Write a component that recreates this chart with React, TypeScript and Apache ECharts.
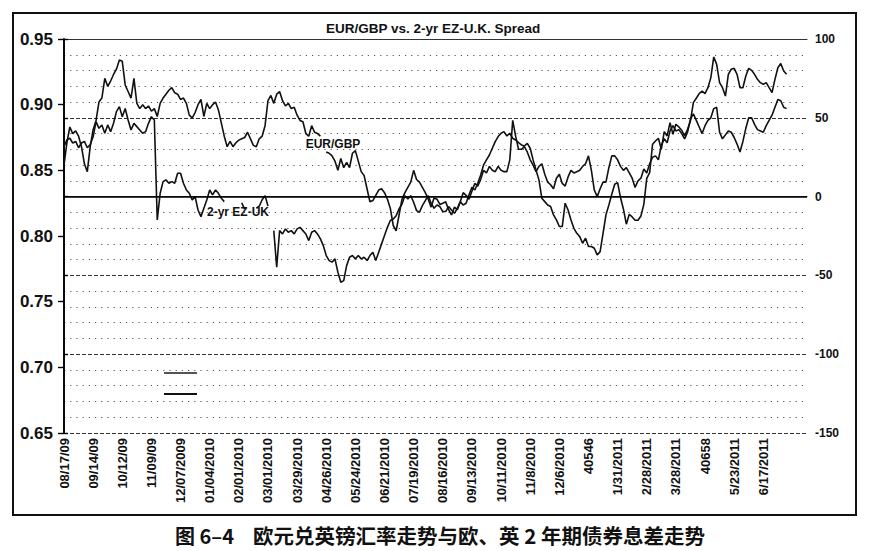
import React, { useEffect, useRef } from 'react';
import * as echarts from 'echarts';

const xLabels = [
  '08/17/09', '09/14/09', '10/12/09', '11/09/09', '12/07/2009', '01/04/2010', '02/01/2010',
  '03/01/2010', '03/29/2010', '04/26/2010', '05/24/2010', '06/21/2010', '07/19/2010',
  '08/16/2010', '09/13/2010', '10/11/2010', '11/8/2010', '12/6/2010', '40546', '1/31/2011',
  '2/28/2011', '3/28/2011', '40658', '5/23/2011', '6/17/2011',
];

const eurgbp: (number | null)[] = [
  0.854, 0.871, 0.883, 0.878, 0.880, 0.876, 0.868, 0.855, 0.849, 0.868,
  0.881, 0.888, 0.902, 0.905, 0.920, 0.914, 0.918, 0.923, 0.927, 0.934,
  0.933, 0.915, 0.910, 0.905, 0.920, 0.901, 0.897, 0.900, 0.897, 0.899,
  0.895, 0.897, 0.891, 0.901, 0.905, 0.908, 0.911, 0.913, 0.909, 0.908,
  0.904, 0.905, 0.901, 0.892, 0.890, 0.894, 0.900, 0.904, 0.891, 0.901,
  0.897, 0.900, 0.902, 0.896, 0.886, 0.876, 0.868, 0.872, 0.868, 0.871,
  0.873, 0.874, 0.875, 0.879, 0.874, 0.869, 0.868, 0.874, 0.876, 0.884,
  0.903, 0.907, 0.901, 0.908, 0.910, 0.903, 0.899, 0.901, 0.897, 0.898,
  0.892, 0.888, 0.887, 0.878, 0.876, 0.884, 0.879, 0.878, 0.876, null,
  0.864, 0.863, 0.861, 0.857, 0.850, 0.859, 0.852, 0.856, 0.852, 0.863,
  0.865, 0.857, 0.849, 0.846, 0.836, 0.826, 0.827, 0.831, 0.835, 0.836,
  0.833, 0.828, 0.821, 0.808, 0.804, 0.816, 0.828, 0.833, 0.837, 0.841,
  0.850, 0.843, 0.841, 0.837, 0.833, 0.828, 0.822, 0.829, 0.828, 0.824,
  0.825, 0.826, 0.820, 0.816, 0.822, 0.820, 0.826, 0.833, 0.831, 0.828,
  0.834, 0.840, 0.838, 0.843, 0.850, 0.848, 0.853, 0.850, 0.849, 0.853,
  0.850, 0.849, 0.849, 0.858, 0.888, 0.876, 0.866, 0.866, 0.868, 0.864,
  0.858, 0.854, 0.849, 0.853, 0.855, 0.847, 0.841, 0.839, 0.836, 0.844,
  0.847, 0.840, 0.838, 0.845, 0.850, 0.848, 0.849, 0.850, 0.853, 0.855,
  0.861, 0.850, 0.835, 0.830, 0.836, 0.841, 0.841, 0.852, 0.861, 0.861,
  0.858, 0.853, 0.850, 0.852, 0.848, 0.844, 0.837, 0.842, 0.844, 0.851,
  0.848, 0.855, 0.860, 0.861, 0.858, 0.869, 0.874, 0.871, 0.880, 0.884,
  0.880, 0.881, 0.878, 0.874, 0.879, 0.889, 0.893, 0.888, 0.883, 0.878,
  0.884, 0.888, 0.890, 0.897, 0.898, 0.879, 0.874, 0.877, 0.880, 0.879,
  0.875, 0.870, 0.864, 0.872, 0.882, 0.890, 0.890, 0.885, 0.881, 0.880,
  0.879, 0.884, 0.888, 0.892, 0.898, 0.904, 0.903, 0.898, 0.897,
];

const spread: (number | null)[] = [
  31.7, 36.0, 37.0, 34.0, 35.0, 31.0, 34.0, 35.0, 31.0, 33.0,
  38.0, 47.6, 43.3, 45.5, 40.2, 45.5, 41.2, 46.5, 53.9, 57.1,
  50.7, 55.9, 48.6, 42.3, 46.5, 44.4, 42.3, 40.2, 41.2, 46.5,
  50.7, 48.6, -14.8, 2.1, 9.5, 10.6, 8.5, 9.5, 8.5, 14.8,
  14.8, 8.5, 4.2, 2.1, -2.1, 0.0, -8.5, -12.7, -7.4, -2.1,
  4.2, 1.1, 4.2, 2.1, -1.1, -3.2, null, null, null, null,
  null, -4.0, -8.0, null, null, null, -7.4, -6.1, -2.0, 0.6,
  -6.0, null, -21.6, -44.8, -21.6, -23.7, -20.5, -22.6, -21.6, -23.7,
  -20.5, -19.5, -21.6, -23.7, -27.9, -22.6, -21.6, -23.7, -26.8, -31.1,
  -37.4, -40.6, -41.6, -39.5, -48.0, -54.3, -53.3, -43.8, -38.5, -37.4,
  -39.5, -37.4, -39.5, -38.5, -40.6, -37.4, -35.3, -40.6, -35.3, -30.0,
  -24.7, -19.5, -15.2, -14.2, -12.1, -7.8, -4.7, 0.6, -1.5, 0.6,
  -3.6, -8.9, -9.9, -5.7, -2.5, 0.6, -4.2, -7.4, -5.3, -6.3,
  -9.5, -9.5, -6.3, -8.5, -10.6, -7.4, -3.2, -5.3, -4.2, 1.1,
  5.9, 4.2, 8.5, 13.7, 20.1, 23.3, 26.4, 30.7, 34.9, 38.1,
  40.2, 41.2, 38.5, 40.2, 37.0, 35.9, 34.2, 32.8, 32.1, 33.8,
  30.7, 23.3, 16.9, 10.6, -1.1, -3.2, -5.3, -6.3, -11.6, -14.8,
  -19.0, -19.0, -4.2, -8.5, -14.8, -20.1, -23.3, -25.4, -29.6, -26.4,
  -31.7, -31.7, -32.8, -37.0, -34.9, -23.3, -11.6, -5.3, 1.5, 7.8,
  8.9, -0.6, -8.0, -17.5, -11.2, -12.9, -15.0, -15.0, -12.3, -4.9,
  11.6, 15.2, 33.2, 35.3, 37.0, 30.0, 41.2, 38.5, 46.9, 39.5,
  45.9, 44.2, 42.1, 38.5, 42.7, 48.0, 59.6, 62.4, 65.3, 67.0,
  65.3, 69.1, 75.5, 88.6, 83.9, 72.3, 69.1, 63.8, 77.6, 80.8,
  81.4, 77.6, 69.1, 69.1, 76.5, 81.4, 80.1, 77.6, 74.4, 72.3,
  71.2, 72.3, 69.1, 66.0, 74.4, 81.8, 84.4, 79.7, 77.6,
];

const FONT = '"Liberation Sans", Arial, sans-serif';
const CJK = '"Noto Sans CJK SC", sans-serif';

export default function App() {
  const ref = useRef<HTMLDivElement>(null);
  useEffect(() => {
    const chart = echarts.init(ref.current!, null, { renderer: 'svg' });
    const pts = (arr: (number | null)[]) => arr.map((v, i) => [i, v === null ? '-' : v]);
    chart.setOption({
      animation: false,
      backgroundColor: '#fff',
      title: {
        text: 'EUR/GBP vs. 2-yr EZ-U.K. Spread',
        left: 326,
        top: 21,
        padding: 0,
        textStyle: { fontFamily: FONT, fontWeight: 'bold', fontSize: 13.5, color: '#111' },
      },
      legend: {
        orient: 'vertical',
        left: 164,
        top: 372,
        itemWidth: 33,
        itemHeight: 2,
        itemGap: 19,
        icon: 'rect',
        padding: 0,
        formatter: () => '',
        textStyle: { fontSize: 1, lineHeight: 1 },
        data: [
          { name: 'EUR/GBP', itemStyle: { color: '#555' } },
          { name: '2-yr EZ-UK', itemStyle: { color: '#111' } },
        ],
      },
      grid: {
        left: 64, right: 84, top: 39, bottom: 118,
      },
      xAxis: [
        {
          type: 'value',
          min: 0,
          max: 255,
          interval: 10,
          axisLine: { show: true, lineStyle: { color: '#222', width: 1.2 } },
          axisTick: { show: false },
          splitLine: { show: false },
          axisLabel: {
            rotate: 90,
            margin: 5,
            fontFamily: FONT,
            fontWeight: 'bold',
            fontSize: 13,
            color: '#111',
            formatter: (v: number) => xLabels[v / 10] ?? '',
          },
        },
        {
          type: 'value',
          position: 'top',
          min: 0,
          max: 255,
          interval: 10,
          axisLine: { show: true, onZero: false, lineStyle: { color: '#333', width: 1 } },
          axisTick: { show: false },
          axisLabel: { show: false },
          splitLine: { show: false },
        },
      ],
      yAxis: [
        {
          type: 'value',
          min: 0.65,
          max: 0.95,
          interval: 0.05,
          position: 'left',
          offset: 2,
          axisLine: { show: true, lineStyle: { color: '#000', width: 1.6 } },
          axisTick: { show: true, length: 6, lineStyle: { color: '#000', width: 1.4 } },
          splitLine: { show: false },
          axisLabel: {
            margin: 9,
            fontFamily: FONT,
            fontWeight: 'bold',
            fontSize: 17,
            color: '#111',
            formatter: (v: number) => v.toFixed(2),
          },
        },
        {
          type: 'value',
          min: -150,
          max: 100,
          interval: 50,
          position: 'right',
          axisLine: { show: true, lineStyle: { color: '#000', width: 1.6 } },
          axisTick: { show: true, length: 4, lineStyle: { color: '#000', width: 1.4 } },
          minorTick: { show: false, splitNumber: 5 },
          splitLine: { show: true, lineStyle: { color: '#333', width: 1, type: [4, 2] } },
          minorSplitLine: { show: true, lineStyle: { color: '#555', width: 1, type: [1.2, 5] } },
          axisLabel: {
            margin: 8,
            fontFamily: FONT,
            fontWeight: 'bold',
            fontSize: 12,
            color: '#111',
          },
        },
      ],
      series: [
        {
          name: 'EUR/GBP',
          type: 'line',
          yAxisIndex: 0,
          data: pts(eurgbp),
          showSymbol: false,
          connectNulls: false,
          lineStyle: { color: '#111', width: 1.6 },
          itemStyle: { color: '#111' },
        },
        {
          name: '2-yr EZ-UK',
          type: 'line',
          yAxisIndex: 1,
          data: pts(spread),
          showSymbol: false,
          connectNulls: false,
          lineStyle: { color: '#111', width: 1.6 },
          itemStyle: { color: '#111' },
          markLine: {
            silent: true,
            symbol: 'none',
            label: { show: false },
            lineStyle: { color: '#000', width: 1.6, type: 'solid' },
            data: [{ yAxis: 0 }],
          },
        },
      ],
      graphic: [
        {
          type: 'rect',
          shape: { x: 13, y: 13, width: 843, height: 502 },
          style: { fill: 'none', stroke: '#111', lineWidth: 2 },
          silent: true,
        },
        {
          type: 'text',
          x: 333,
          y: 144,
          style: {
            text: 'EUR/GBP', fontFamily: FONT, fontWeight: 'bold', fontSize: 12,
            fill: '#111', align: 'center', verticalAlign: 'middle',
          },
        },
        {
          type: 'text',
          x: 238,
          y: 212,
          style: {
            text: '2-yr EZ-UK', fontFamily: FONT, fontWeight: 'bold', fontSize: 12,
            fill: '#111', align: 'center', verticalAlign: 'middle',
          },
        },
        {
          type: 'text',
          x: 175,
          y: 535,
          style: {
            text: '图 6–4', fontFamily: CJK, fontWeight: 'bold', fontSize: 20,
            fill: '#111', align: 'left', verticalAlign: 'middle',
          },
        },
        {
          type: 'text',
          x: 253,
          y: 535,
          style: {
            text: '欧元兑英镑汇率走势与欧、英 2 年期债券息差走势', fontFamily: CJK, fontWeight: 'bold', fontSize: 20.5,
            fill: '#111', align: 'left', verticalAlign: 'middle',
          },
        },
      ],
    });
    return () => chart.dispose();
  }, []);
  return (
    <div
      ref={ref}
      style={{ position: 'absolute', left: 0, top: 0, width: 891, height: 551, background: '#fff' }}
    />
  );
}
